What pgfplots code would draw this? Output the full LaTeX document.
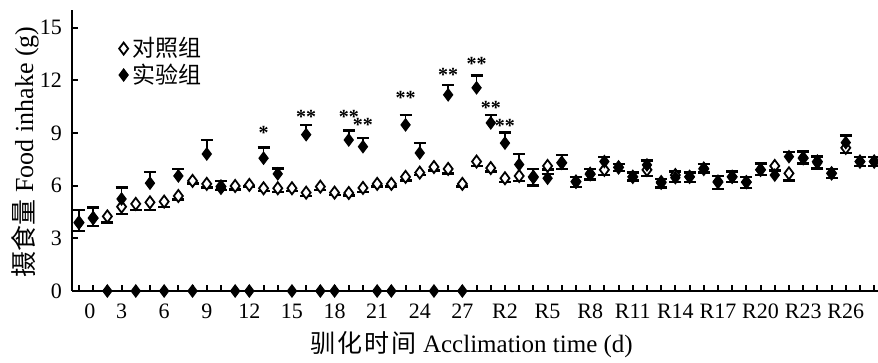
\documentclass[border=0pt]{standalone}
\usepackage{fontspec}
\setmainfont{Liberation Serif}
\newfontfamily\cjk{Noto Sans CJK SC}
\usepackage{pgfplots}
\usepackage{pgfplotstable}
\pgfplotsset{compat=1.18}
\usetikzlibrary{calc}

\pgfplotstableread{
x y e
0 3.9 0.5
1 4.15 0.45
2 4.25 0.35
3 4.8 0.4
4 4.96 0.35
5 5.05 0.45
6 5.09 0.3
7 5.41 0.2
8 6.27 0.15
9 6.1 0.2
10 5.95 0.2
11 5.98 0.2
12 6.04 0.1
13 5.85 0.15
14 5.85 0.2
15 5.85 0.15
16 5.6 0.2
17 5.94 0.2
18 5.6 0.15
19 5.58 0.15
20 5.87 0.25
21 6.1 0.15
22 6.1 0.15
23 6.5 0.2
24 6.74 0.15
25 7.06 0.2
26 6.95 0.25
27 6.1 0.15
28 7.37 0.25
29 7.0 0.2
30 6.42 0.2
31 6.55 0.3
32 6.5 0.5
33 7.12 0.2
34 7.3 0.35
35 6.23 0.3
36 6.65 0.3
37 6.9 0.3
38 7.04 0.2
39 6.5 0.2
40 6.9 0.35
41 6.2 0.3
42 6.6 0.4
43 6.5 0.3
44 6.95 0.2
45 6.2 0.4
46 6.5 0.3
47 6.2 0.35
48 6.9 0.3
49 7.12 0.3
50 6.7 0.4
51 7.56 0.3
52 7.37 0.4
53 6.7 0.25
54 8.15 0.3
55 7.37 0.25
56 7.37 0.25
}\ctrl

\pgfplotstableread{
x y e
0 3.87 0.75
1 4.15 0.6
3 5.24 0.65
5 6.14 0.65
7 6.55 0.4
9 7.8 0.8
10 5.85 0.4
13 7.56 0.6
14 6.67 0.3
16 8.9 0.55
19 8.6 0.55
20 8.22 0.5
23 9.46 0.55
24 7.86 0.55
26 11.17 0.55
28 11.57 0.7
29 9.57 0.45
30 8.42 0.6
31 7.2 0.6
32 6.45 0.5
33 6.42 0.25
34 7.3 0.45
35 6.2 0.3
36 6.7 0.25
37 7.37 0.25
38 7.04 0.2
39 6.5 0.25
40 7.18 0.25
41 6.14 0.25
42 6.45 0.35
43 6.5 0.25
44 6.99 0.25
45 6.25 0.3
46 6.5 0.3
47 6.2 0.3
48 6.9 0.35
49 6.6 0.3
50 7.65 0.25
51 7.6 0.35
52 7.3 0.35
53 6.7 0.25
54 8.45 0.4
55 7.37 0.25
56 7.37 0.25
}\expt

\pgfplotstableread{
x y
2 0
4 0
6 0
8 0
11 0
12 0
15 0
17 0
18 0
21 0
22 0
25 0
27 0
}\zero

\pgfplotstableread{
x y s
13 9.0 *
16 9.93 **
19 9.93 **
20 9.43 **
23 11.0 **
26 12.33 **
28 12.93 **
29 10.43 **
30 9.39 **
}\stars

\pgfplotstableread{
x y
0 0.3
1 0.3
2 0.3
3 0.3
4 0.3
5 0.3
6 0.3
7 0.3
8 0.3
9 0.3
10 0.3
11 0.3
12 0.3
13 0.3
14 0.3
15 0.3
16 0.3
17 0.3
18 0.3
19 0.3
20 0.3
21 0.3
22 0.3
23 0.3
24 0.3
25 0.3
26 0.3
27 0.3
28 0.3
29 0.3
30 0.3
31 0.3
32 0.3
33 0.3
34 0.3
35 0.3
36 0.3
37 0.3
38 0.3
39 0.3
40 0.3
41 0.3
42 0.3
43 0.3
44 0.3
45 0.3
46 0.3
47 0.3
48 0.3
49 0.3
50 0.3
51 0.3
52 0.3
53 0.3
54 0.3
55 0.3
56 0.3
}\xticks

\begin{document}
\begin{tikzpicture}
\begin{axis}[
  name=ax,
  scale only axis,
  width=403pt, height=140.5pt,
  xmin=-0.49, xmax=56.27,
  ymin=0, ymax=16,
  axis x line*=bottom,
  axis y line*=left,
  axis line style={line width=1pt, black},
  clip=false,
  xtick align=inside,
  ytick align=inside,
  major tick length=3pt,
  every tick/.style={line width=1pt, black},
  ytick={0,3,...,15},
  xtick={0,1,...,56},
  xticklabels={{\hphantom{00}0},,,3,,,6,,,9,,,12,,,15,,,18,,,21,,,24,,,27,,,R2,,,R5,,,R8,,,R11,,,R14,,,R17,,,R20,,,R23,,,R26,,},
  ticklabel style={font=\fontsize{11}{12}\selectfont},
  xticklabel style={yshift=-3pt},
  yticklabel style={xshift=-1.5pt},
  /pgf/number format/assume math mode=true,
  xlabel={{\cjk 驯\kern1pt 化\kern1pt 时\kern1pt 间} Acclimation time (d)},
  xlabel style={at={(axis description cs:0.496,0)}, anchor=center, yshift=-27pt, font=\fontsize{12.5}{14}\selectfont},
  ylabel={{\cjk 摄食量} Food inhake (g)},
  ylabel style={at={(axis description cs:-0.0583,0.495)}, anchor=center, font=\fontsize{13}{14}\selectfont},
  legend entries={{\cjk 对照组},{\cjk 实验组}},
  legend image code/.code={\draw[mark repeat=2, mark phase=2, only marks, #1] plot coordinates {(0cm,0cm)(0.1cm,0cm)(0.2cm,0cm)};},
  legend style={at={(0.058,0.918)}, anchor=north west, draw=none, fill=none,
    font=\cjk\fontsize{11.5}{13}\selectfont, row sep=-2pt, inner sep=0pt},
  legend cell align=left,
]
\addplot[only marks, mark=diamond*, mark size=3pt,
  mark options={fill=white, draw=black, line width=0.9pt},
  error bars/.cd, y dir=minus, y explicit,
  error bar style={line width=0.9pt, black},
  error mark options={rotate=90, mark size=3pt, line width=1.2pt, black}]
  table[x=x, y=y, y error=e] {\ctrl};
\addplot[only marks, mark=diamond*, mark size=3pt,
  mark options={fill=black, draw=black, line width=0.6pt},
  error bars/.cd, y dir=plus, y explicit,
  error bar style={line width=0.9pt, black},
  error mark options={rotate=90, mark size=3pt, line width=1.2pt, black}]
  table[x=x, y=y, y error=e] {\expt};
\addplot[forget plot, ycomb, mark=none, black, line width=0.9pt] table[x=x, y=y] {\xticks};
\addplot[forget plot, only marks, mark=diamond*, mark size=3pt,
  mark options={fill=black, draw=black, line width=0.6pt}] table[x=x, y=y] {\zero};
\addplot[forget plot, draw=none, mark=none, nodes near coords,
  point meta=explicit symbolic,
  nodes near coords style={anchor=center, inner sep=0pt, font=\bfseries\fontsize{10}{10}\selectfont}]
  table[x=x, y=y, meta=s] {\stars};
\end{axis}
\pgfresetboundingbox
\path[use as bounding box] ($(ax.south west)+(-36pt,-36pt)$) rectangle ($(ax.north east)+(0pt,5pt)$);
\end{tikzpicture}
\end{document}
